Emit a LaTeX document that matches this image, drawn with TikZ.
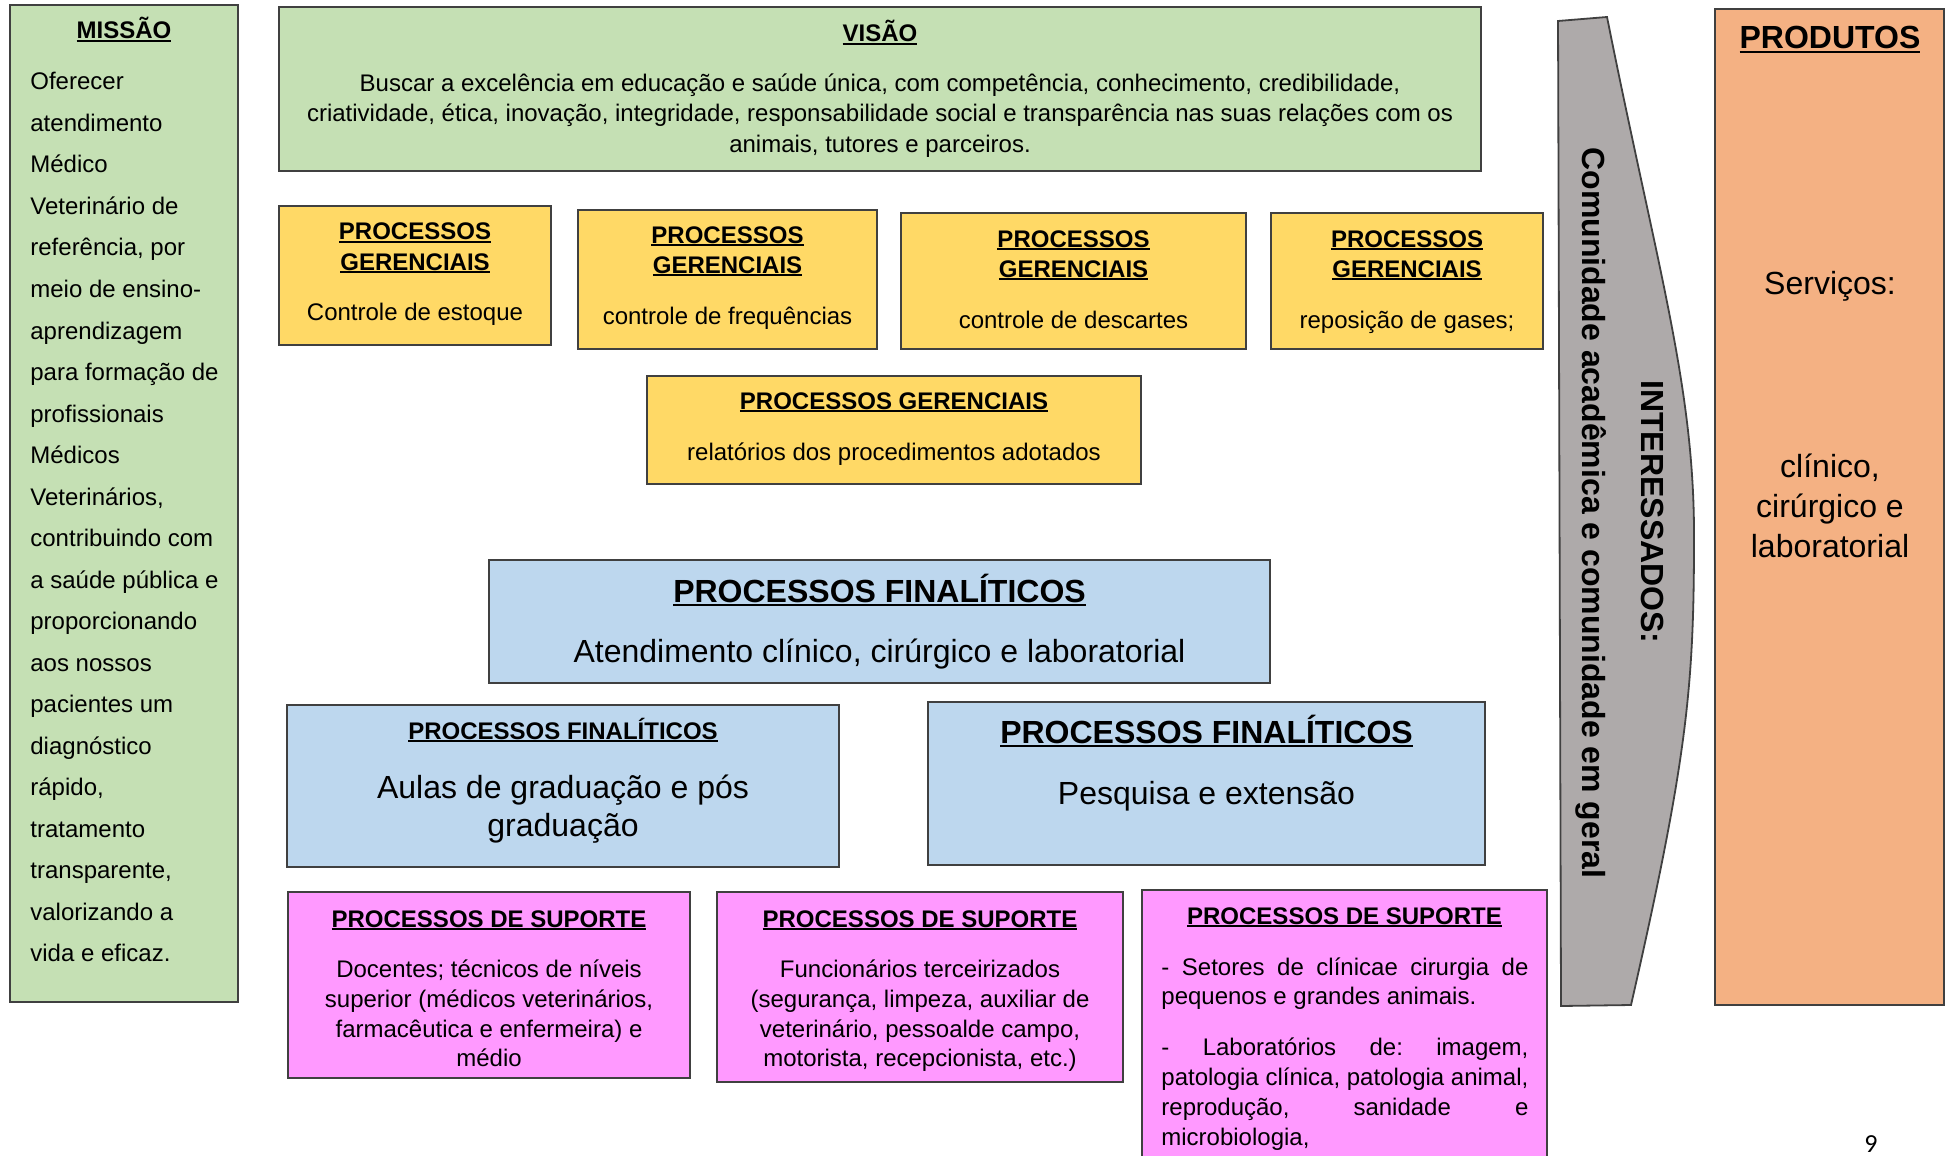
\documentclass[tikz,border=0pt]{standalone}
\usepackage{fontspec}
\setmainfont{Liberation Sans}
\newfontfamily\calibri{Carlito}
\frenchspacing
\definecolor{cgreen}{HTML}{C5E0B4}
\definecolor{cyellow}{HTML}{FFD966}
\definecolor{cblue}{HTML}{BDD7EE}
\definecolor{cpink}{HTML}{FF99FF}
\definecolor{cgray}{HTML}{AEAAAA}
\definecolor{corange}{HTML}{F4B183}
\definecolor{cline}{HTML}{404040}
\newcommand\myul[1]{\setbox0\hbox{#1}\rlap{\rule[-0.13em]{\wd0}{0.075em}}\box0}
\newcommand\bx[6]{\node[boxbase,#6,minimum width={(#4-#2)*0.5pt},minimum height={(#5-#3)*0.5pt}] (#1) at (#2,#3) {};}
\begin{document}
\begin{tikzpicture}[x=0.5pt,y=-0.5pt,
  boxbase/.style={draw=cline,line width=0.9pt,anchor=north west,inner sep=0pt,outer sep=0pt},
  tn/.style={font=\fontsize{12}{14}\selectfont\frenchspacing,anchor=base,inner sep=0pt},
  tb/.style={font=\fontsize{12}{14}\selectfont\bfseries,anchor=base,inner sep=0pt},
  tnl/.style={tn,anchor=base west},
  big/.style={font=\fontsize{16}{19}\selectfont,anchor=base,inner sep=0pt},
  bigb/.style={font=\fontsize{16}{19}\selectfont\bfseries,anchor=base,inner sep=0pt}]
\useasboundingbox (0,0) rectangle (1946,1155);
\clip (0,0) rectangle (1946,1155);

% MISSAO
\bx{missao}{10}{5}{238}{1002}{fill=cgreen}
\node[tb] (missao-t) at (124,39) {\myul{MISSÃO}};
\foreach \t [count=\i] in {Oferecer, atendimento, Médico, Veterinário de, {referência, por}, meio de ensino-, aprendizagem, para formação de, profissionais, Médicos, {Veterinários,}, contribuindo com, a saúde pública e, proporcionando, aos nossos, pacientes um, diagnóstico, {rápido,}, tratamento, {transparente,}, valorizando a, vida e eficaz.}
  \node[tnl] (mis\i) at (30,{90+41.5*(\i-1)}) {\t};

% VISAO
\bx{visao}{279}{7}{1481}{171}{fill=cgreen}
\node[tb] (visao-t) at (880,42) {\myul{VISÃO}};
\node[tn] (visao-1) at (880,92) {Buscar a excelência em educação e saúde única, com competência, conhecimento, credibilidade,};
\node[tn] (visao-2) at (880,122) {criatividade, ética, inovação, integridade, responsabilidade social e transparência nas suas relações com os};
\node[tn] (visao-3) at (880,153) {animais, tutores e parceiros.};

% GERENCIAIS
\bx{g1}{279}{206}{551}{345}{fill=cyellow}
\node[tb] (g1-a) at (415,240) {\myul{PROCESSOS}};
\node[tb] (g1-b) at (415,270) {\myul{GERENCIAIS}};
\node[tn] (g1-c) at (415,320) {Controle de estoque};

\bx{g2}{578}{210}{877}{349}{fill=cyellow}
\node[tb] (g2-a) at (727.5,243) {\myul{PROCESSOS}};
\node[tb] (g2-b) at (727.5,273) {\myul{GERENCIAIS}};
\node[tn] (g2-c) at (727.5,324) {controle de frequências};

\bx{g3}{901}{213}{1246}{349}{fill=cyellow}
\node[tb] (g3-a) at (1073.5,247) {\myul{PROCESSOS}};
\node[tb] (g3-b) at (1073.5,277) {\myul{GERENCIAIS}};
\node[tn] (g3-c) at (1073.5,328) {controle de descartes};

\bx{g4}{1271}{213}{1543}{349}{fill=cyellow}
\node[tb] (g4-a) at (1407,247) {\myul{PROCESSOS}};
\node[tb] (g4-b) at (1407,277) {\myul{GERENCIAIS}};
\node[tn] (g4-c) at (1407,328) {reposição de gases;};

\bx{g5}{647}{376}{1141}{484}{fill=cyellow}
\node[tb] (g5-a) at (894,409) {\myul{PROCESSOS GERENCIAIS}};
\node[tn] (g5-c) at (894,460) {relatórios dos procedimentos adotados};

% FINALITICOS
\bx{f1}{489}{560}{1270}{683}{fill=cblue}
\node[bigb] (f1-a) at (879.5,602) {\myul{PROCESSOS FINALÍTICOS}};
\node[big] (f1-c) at (879.5,662) {Atendimento clínico, cirúrgico e laboratorial};

\bx{f2}{287}{705}{839}{867}{fill=cblue}
\node[tb] (f2-a) at (563,739) {\myul{PROCESSOS FINALÍTICOS}};
\node[big] (f2-c) at (563,798) {Aulas de graduação e pós};
\node[big] (f2-d) at (563,836) {graduação};

\bx{f3}{928}{702}{1485}{865}{fill=cblue}
\node[bigb] (f3-a) at (1206.5,743) {\myul{PROCESSOS FINALÍTICOS}};
\node[big] (f3-c) at (1206.5,804) {Pesquisa e extensão};

% SUPORTE
\bx{s1}{288}{892}{690}{1078}{fill=cpink}
\node[tb] (s1-a) at (489,927) {\myul{PROCESSOS DE SUPORTE}};
\node[tn] (s1-1) at (489,977) {Docentes; técnicos de níveis};
\node[tn] (s1-2) at (489,1007) {superior (médicos veterinários,};
\node[tn] (s1-3) at (489,1037) {farmacêutica e enfermeira) e};
\node[tn] (s1-4) at (489,1066) {médio};

\bx{s2}{717}{892}{1123}{1082}{fill=cpink}
\node[tb] (s2-a) at (920,927) {\myul{PROCESSOS DE SUPORTE}};
\node[tn] (s2-1) at (920,977) {Funcionários terceirizados};
\node[tn] (s2-2) at (920,1007) {(segurança, limpeza, auxiliar de};
\node[tn] (s2-3) at (920,1037) {veterinário, pessoalde campo,};
\node[tn] (s2-4) at (920,1066) {motorista, recepcionista, etc.)};

\bx{s3}{1142}{890}{1547}{1180}{fill=cpink}
\node[tb] (s3-a) at (1344.5,924) {\myul{PROCESSOS DE SUPORTE}};
\node[tnl] (s3-1) at (1161,975) {\makebox[183.5pt][s]{- Setores de clínicae cirurgia de}};
\node[tnl] (s3-2) at (1161,1004) {pequenos e grandes animais.};
\node[tnl] (s3-3) at (1161,1055) {\makebox[183.5pt][s]{- Laboratórios de: imagem,}};
\node[tnl] (s3-4) at (1161,1085) {\makebox[183.5pt][s]{patologia clínica, patologia animal,}};
\node[tnl] (s3-5) at (1161,1115) {\makebox[183.5pt][s]{reprodução, sanidade e}};
\node[tnl] (s3-6) at (1161,1145) {microbiologia,};

% INTERESSADOS
\draw[draw=cline,line width=0.9pt,fill=cgray] (1558,21) -- (1607,17)
  .. controls (1657,267) and (1694,385) .. (1694,535)
  .. controls (1694,685) and (1688,755) .. (1631,1005) -- (1561,1006) -- cycle;
\node[bigb,rotate=-90] (int-t) at (1641,512) {INTERESSADOS:};
\node[bigb,rotate=-90] (int-c) at (1582,513) {Comunidade acadêmica e comunidade em geral};

% PRODUTOS
\bx{prod}{1715}{9}{1944}{1005}{fill=corange}
\node[bigb] (prod-t) at (1830,49) {\myul{PRODUTOS}};
\node[big] (prod-s) at (1830,294) {Serviços:};
\node[big] (prod-1) at (1830,477) {clínico,};
\node[big] (prod-2) at (1830,517) {cirúrgico e};
\node[big] (prod-3) at (1830,557) {laboratorial};

\node[font=\calibri\fontsize{13}{15}\selectfont,anchor=base,inner sep=0pt] (pg) at (1871,1152) {9};
\end{tikzpicture}
\end{document}
